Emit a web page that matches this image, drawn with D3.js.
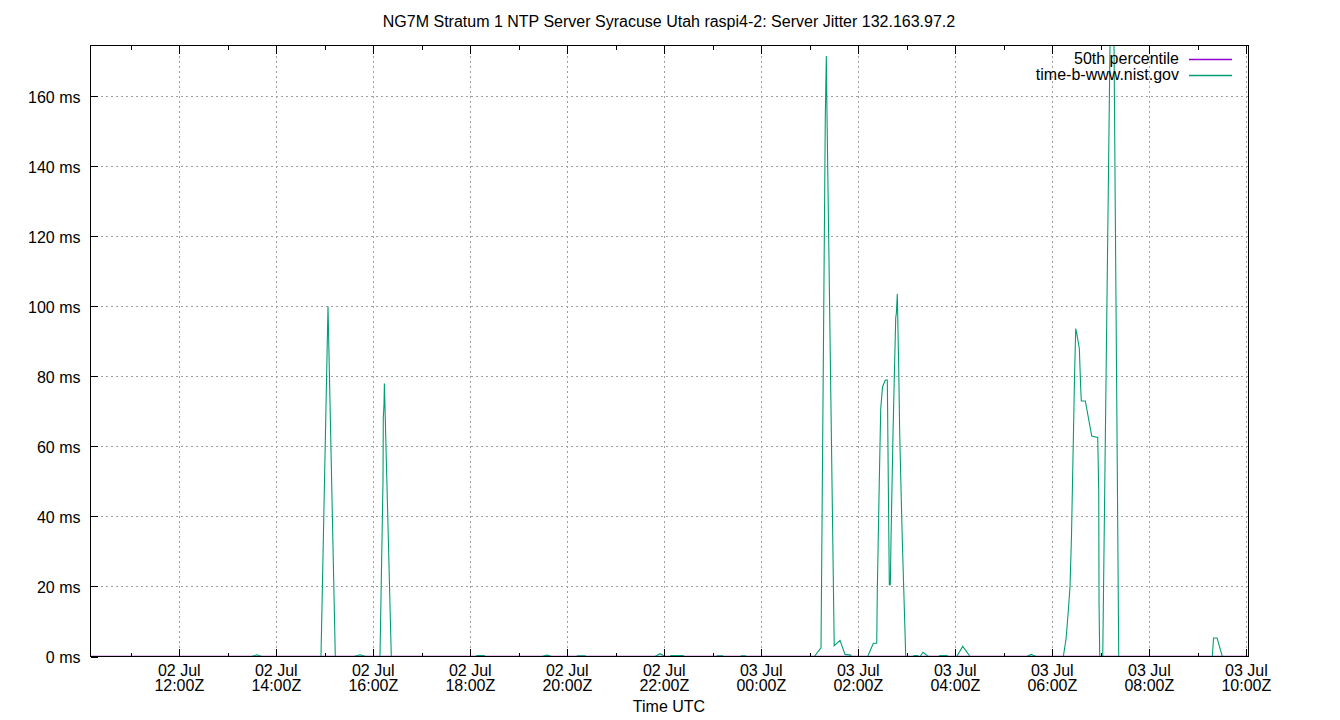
<!DOCTYPE html>
<html>
<head>
<meta charset="utf-8">
<script src="https://cdn.jsdelivr.net/npm/d3@7/dist/d3.min.js"></script>
<style>
  html, body { margin: 0; padding: 0; background: #fff; }
  svg { display: block; font-family: "Liberation Sans", Arial, sans-serif; }
</style>
</head>
<body>
<svg id="chart" width="1340" height="720"></svg>
<script>
// ---- data ----
const titleText = "NG7M Stratum 1 NTP Server Syracuse Utah raspi4-2: Server Jitter 132.163.97.2";
const xAxisTitle = "Time UTC";
const seriesNames = ["50th percentile", "time-b-www.nist.gov"];
const seriesColors = ["#9400d3", "#009e73"];

const timeDomain = ["02 Jul 10:10:10", "03 Jul 10:02:40"];
const yDomain = [0, 174.57];
const yTicks = [0, 20, 40, 60, 80, 100, 120, 140, 160];

// 50th percentile (median jitter, essentially zero on this scale)
const p50Times = ["02 Jul 10:10:10", "03 Jul 10:02:40"];
const p50Values = [0.05, 0.05];

// time-b-www.nist.gov jitter, ms
const jitterTimes = [
  "02 Jul 10:10:46",
  "02 Jul 13:29:34", "02 Jul 13:36:07", "02 Jul 13:41:56",
  "02 Jul 14:55:18", "02 Jul 15:03:58", "02 Jul 15:12:59",
  "02 Jul 15:36:07", "02 Jul 15:43:33", "02 Jul 15:50:36",
  "02 Jul 16:08:17", "02 Jul 16:12:00", "02 Jul 16:12:22", "02 Jul 16:13:14", "02 Jul 16:13:44", "02 Jul 16:22:16",
  "02 Jul 18:07:03", "02 Jul 18:08:17", "02 Jul 18:16:57", "02 Jul 18:18:11",
  "02 Jul 19:28:20", "02 Jul 19:34:53", "02 Jul 19:40:42",
  "02 Jul 20:11:38", "02 Jul 20:12:37", "02 Jul 20:21:53", "02 Jul 20:22:46",
  "02 Jul 21:48:29", "02 Jul 21:54:41", "02 Jul 22:01:14",
  "02 Jul 22:07:03", "02 Jul 22:08:17", "02 Jul 22:23:08", "02 Jul 22:24:22",
  "02 Jul 23:04:49", "02 Jul 23:05:49", "02 Jul 23:11:59", "02 Jul 23:12:59",
  "02 Jul 23:34:31", "02 Jul 23:35:30", "02 Jul 23:40:05", "02 Jul 23:41:04",
  "03 Jul 01:05:34", "03 Jul 01:13:51", "03 Jul 01:19:10", "03 Jul 01:20:25", "03 Jul 01:20:54",
  "03 Jul 01:30:11", "03 Jul 01:37:21", "03 Jul 01:43:32", "03 Jul 01:50:35", "03 Jul 01:51:35",
  "03 Jul 02:11:38", "03 Jul 02:18:33", "03 Jul 02:22:46", "03 Jul 02:23:30", "03 Jul 02:25:59",
  "03 Jul 02:27:43", "03 Jul 02:29:56", "03 Jul 02:33:24", "03 Jul 02:35:52", "03 Jul 02:37:07",
  "03 Jul 02:38:21", "03 Jul 02:39:35", "03 Jul 02:40:27", "03 Jul 02:41:41", "03 Jul 02:42:56",
  "03 Jul 02:44:32", "03 Jul 02:46:16", "03 Jul 02:47:01", "03 Jul 02:48:15", "03 Jul 02:49:59",
  "03 Jul 02:51:13", "03 Jul 02:52:50", "03 Jul 02:54:26", "03 Jul 02:56:10", "03 Jul 02:57:46", "03 Jul 02:58:38",
  "03 Jul 03:08:02", "03 Jul 03:08:55", "03 Jul 03:13:14", "03 Jul 03:14:14",
  "03 Jul 03:16:20", "03 Jul 03:20:02", "03 Jul 03:26:36",
  "03 Jul 03:39:50", "03 Jul 03:41:04", "03 Jul 03:49:44", "03 Jul 03:50:36",
  "03 Jul 04:01:44", "03 Jul 04:09:09", "03 Jul 04:18:11",
  "03 Jul 05:28:20", "03 Jul 05:33:39", "03 Jul 05:39:50",
  "03 Jul 06:13:37", "03 Jul 06:16:57", "03 Jul 06:19:25", "03 Jul 06:21:54", "03 Jul 06:23:45",
  "03 Jul 06:24:59", "03 Jul 06:26:14", "03 Jul 06:27:28", "03 Jul 06:28:57", "03 Jul 06:30:11",
  "03 Jul 06:33:24", "03 Jul 06:35:08", "03 Jul 06:35:52", "03 Jul 06:40:49", "03 Jul 06:48:44",
  "03 Jul 06:56:10", "03 Jul 06:57:24", "03 Jul 06:57:46", "03 Jul 06:58:38",
  "03 Jul 07:02:21", "03 Jul 07:14:21", "03 Jul 07:22:08",
  "03 Jul 09:17:56", "03 Jul 09:19:25", "03 Jul 09:23:44", "03 Jul 09:30:19",
  "03 Jul 10:02:00"
];
const jitterValues = [
  0,
  0, 0.5, 0,
  0, 100, 0,
  0, 0.5, 0,
  0, 50, 68, 72, 78, 0,
  0, 0.3, 0.3, 0,
  0, 0.4, 0,
  0, 0.2, 0.2, 0,
  0, 0.8, 0,
  0, 0.3, 0.3, 0,
  0, 0.2, 0.2, 0,
  0, 0.2, 0.2, 0,
  0, 2.5, 154.5, 171.6, 161,
  3.1, 4.6, 0.6, 0.4, 0,
  0, 3.8, 3.8, 19, 50.5,
  70.8, 77, 79, 79, 49,
  20.5, 20.5, 33.6, 48.8, 64,
  80, 96.8, 98, 103.6, 82,
  63.5, 47.7, 33, 19.4, 7, 0,
  0, 0.3, 0.3, 0,
  0, 1.2, 0,
  0, 0.3, 0.3, 0,
  0, 2.9, 0,
  0, 0.6, 0,
  0, 5, 12, 20, 35,
  50, 65, 80, 93.7, 92.3,
  88, 76.5, 73, 73, 63,
  62.6, 47, 15.5, 0,
  0, 233, 0,
  0, 5.3, 5.3, 0,
  0
];

// ---- layout ----
const W = 1340, H = 720;
const plot = { left: 90.5, right: 1248.5, top: 45.5, bottom: 656.5 };
const FONT = 16;

const parse = d3.utcParse("%d %b %H:%M:%S");
const svg = d3.select("#chart");

const x = d3.scaleUtc()
  .domain(timeDomain.map(parse))
  .range([plot.left, plot.right]);
const y = d3.scaleLinear()
  .domain(yDomain)
  .range([plot.bottom, plot.top]);

const majorTicks = d3.utcHour.every(2).range(x.domain()[0], new Date(+x.domain()[1] + 1));
const minorTicks = d3.utcHour.every(1).range(x.domain()[0], new Date(+x.domain()[1] + 1))
  .filter(d => d.getUTCHours() % 2 === 1);

// clip
svg.append("defs").append("clipPath").attr("id", "clip")
  .append("rect")
  .attr("x", plot.left).attr("y", plot.top)
  .attr("width", plot.right - plot.left).attr("height", plot.bottom - plot.top);

// grid
const grid = svg.append("g")
  .attr("stroke", "#a0a0a0").attr("stroke-width", 1)
  .attr("stroke-dasharray", "2,3").attr("shape-rendering", "crispEdges");
grid.selectAll("line.gy").data(yTicks.filter(v => v > 0)).join("line")
  .attr("x1", plot.left).attr("x2", plot.right)
  .attr("y1", d => Math.round(y(d)) + 0.5).attr("y2", d => Math.round(y(d)) + 0.5);
grid.selectAll("line.gx").data(majorTicks).join("line")
  .attr("x1", d => Math.round(x(d)) + 0.5).attr("x2", d => Math.round(x(d)) + 0.5)
  .attr("y1", plot.top).attr("y2", plot.bottom);

// series
const line = d3.line().x(d => x(d[0])).y(d => y(d[1]));
const seriesData = [
  d3.zip(p50Times.map(parse), p50Values),
  d3.zip(jitterTimes.map(parse), jitterValues)
];
const gSeries = svg.append("g").attr("clip-path", "url(#clip)");
seriesData.forEach((data, i) => {
  gSeries.append("path")
    .datum(data)
    .attr("d", line)
    .attr("fill", "none")
    .attr("stroke", seriesColors[i])
    .attr("stroke-width", 1.1)
    .attr("stroke-linejoin", "miter");
});

// axes via d3 axis generators (ticks inward)
const xBottom = d3.axisBottom(x).tickValues(majorTicks).tickSize(-8).tickFormat("");
const xBottomMinor = d3.axisBottom(x).tickValues(minorTicks).tickSize(-4).tickFormat("");
const xTop = d3.axisTop(x).tickValues(majorTicks).tickSize(-8).tickFormat("");
const xTopMinor = d3.axisTop(x).tickValues(minorTicks).tickSize(-4).tickFormat("");
const yLeft = d3.axisLeft(y).tickValues(yTicks).tickSize(-7).tickPadding(10).tickFormat(d => d + " ms");

function styleAxis(g) {
  g.select(".domain").remove();
  g.selectAll(".tick line").attr("stroke", "#000").attr("shape-rendering", "crispEdges");
  g.selectAll("text").attr("font-size", FONT).attr("fill", "#000")
    .attr("font-family", "Liberation Sans, Arial, sans-serif");
}
svg.append("g").attr("transform", `translate(0,${plot.bottom})`).call(xBottom).call(styleAxis);
svg.append("g").attr("transform", `translate(0,${plot.bottom})`).call(xBottomMinor).call(styleAxis);
svg.append("g").attr("transform", `translate(0,${plot.top})`).call(xTop).call(styleAxis);
svg.append("g").attr("transform", `translate(0,${plot.top})`).call(xTopMinor).call(styleAxis);
const gy = svg.append("g").attr("transform", `translate(${plot.left},0)`).call(yLeft).call(styleAxis);
gy.selectAll("text").attr("dy", "0.35em");

// x tick labels (two lines)
const fDay = d3.utcFormat("%d %b");
const fTime = d3.utcFormat("%H:%MZ");
const xl = svg.append("g").attr("font-size", FONT).attr("text-anchor", "middle").attr("fill", "#000");
majorTicks.forEach(d => {
  const t = xl.append("text").attr("x", x(d)).attr("y", plot.bottom + 19);
  t.append("tspan").attr("x", x(d)).text(fDay(d));
  t.append("tspan").attr("x", x(d)).attr("dy", 15.5).text(fTime(d));
});

// border
svg.append("rect")
  .attr("x", plot.left).attr("y", plot.top)
  .attr("width", plot.right - plot.left).attr("height", plot.bottom - plot.top)
  .attr("fill", "none").attr("stroke", "#000").attr("stroke-width", 1)
  .attr("shape-rendering", "crispEdges");

// titles
svg.append("text").attr("x", 669).attr("y", 27).attr("text-anchor", "middle")
  .attr("font-size", FONT).text(titleText);
svg.append("text").attr("x", 669).attr("y", 712).attr("text-anchor", "middle")
  .attr("font-size", FONT).text(xAxisTitle);

// legend
const lg = svg.append("g");
seriesNames.forEach((name, i) => {
  const yy = 59.5 + i * 16;
  lg.append("text").attr("x", 1179).attr("y", yy + 4)
    .attr("text-anchor", "end").attr("font-size", FONT).text(name);
  lg.append("line").attr("x1", 1189).attr("x2", 1232)
    .attr("y1", yy).attr("y2", yy)
    .attr("stroke", seriesColors[i]).attr("stroke-width", 1.4);
});
</script>
</body>
</html>
